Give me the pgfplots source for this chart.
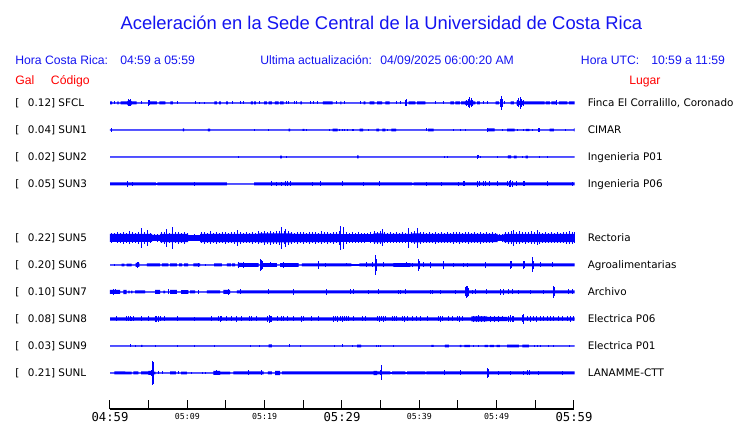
\documentclass[border=0pt]{standalone}
\usepackage{pgfplots}
\pgfplotsset{compat=1.18}
\usepackage{pgfplotstable}
\usepackage{fontspec}
\setmainfont{Liberation Sans}
\newfontfamily\dejavu{DejaVu Sans}
\newfontfamily\dejavumono{DejaVu Sans Mono}
\definecolor{tr}{RGB}{0,0,255}
\definecolor{hb}{RGB}{20,20,240}
\definecolor{rd}{RGB}{255,0,0}

% ---------- trace data: d = position along the hour record (0..464), a = half amplitude ----------
\pgfplotstableread[row sep=\\]{d a\\ 0 1.5\\ 2 0.6\\ 7.3 1.5\\ 8.7 0.6\\ 10.7 1.5\\ 17.3 2.2\\ 21.7 1.5\\ 26.7 0.6\\ 40 1.5\\ 46.7 0.6\\ 49.3 1.5\\ 55.3 0.6\\ 60.3 1.5\\ 62.7 0.6\\ 104.3 1.5\\ 106.7 0.6\\ 109 1.5\\ 110.7 0.6\\ 116 1.5\\ 117.7 0.6\\ 140.7 1.5\\ 142.7 0.6\\ 144 1.5\\ 145.7 0.6\\ 154 1.5\\ 156.7 0.6\\ 158.3 1.5\\ 161.7 0.6\\ 164.7 1.5\\ 168.3 0.6\\ 170 1.5\\ 173.3 0.6\\ 190 1.5\\ 191.7 0.6\\ 212.7 1.5\\ 222.3 0.6\\ 230 1.5\\ 231 0.6\\ 253.3 1.5\\ 255 0.6\\ 259.3 1.5\\ 264 0.6\\ 266.7 1.5\\ 271.7 0.6\\ 275 1.5\\ 279.3 0.6\\ 298.3 1.5\\ 305 0.6\\ 306.7 1.5\\ 315 0.6\\ 340 1.5\\ 343.3 0.6\\ 345 1.5\\ 349.3 0.6\\ 350.7 1.5\\ 355 2\\ 357.7 2.5\\ 362.7 1.5\\ 365 0.6\\ 366.7 1.5\\ 369.3 0.6\\ 385 1.5\\ 388.3 0.6\\ 400 1.5\\ 403.3 0.6\\ 406 2.2\\ 413.3 1.5\\ 434 0.6\\ 435 1.5\\ 439.3 0.6\\ 440.7 1.5\\ 446 0.6\\ 448.3 1.5\\ 456.7 0.6\\ 458.3 1.5\\ 464 1.5\\}\SFCLenv
\pgfplotstableread[row sep=\\]{d a\\ 4.7 1.5\\ 18 3.5\\ 19 3\\ 20 3.5\\ 31.3 1.5\\ 38 3\\ 39 2.5\\ 67.3 1.5\\ 85.3 1.5\\ 89.3 1.2\\ 94.3 1.2\\ 122.7 1.5\\ 130 1.5\\ 133.3 1.5\\ 149.3 1.5\\ 176 1.5\\ 178.3 1.5\\ 184.3 1.5\\ 186.7 1.5\\ 200 1.5\\ 203.3 1.5\\ 207.3 1.5\\ 226 1.5\\ 234 1.5\\ 250 1.5\\ 286 1.5\\ 290 1.5\\ 295.5 3\\ 296.5 3.5\\ 325 1.5\\ 333.3 1.5\\ 356.5 3\\ 358 4\\ 359.5 5.5\\ 361 4.5\\ 362.5 3\\ 373.3 1.5\\ 376.7 1.5\\ 389.5 4\\ 390.5 6.7\\ 391.5 4\\ 394.3 1.5\\ 406.5 3\\ 408 4.5\\ 409.5 6\\ 411 4\\ 412.5 3\\ 446 2.5\\}\SFCLspk

\pgfplotstableread[row sep=\\]{d a\\ 0 0.6\\ 72.7 1.5\\ 74 0.6\\ 97.7 1.3\\ 100 0.6\\ 178.3 1.3\\ 180 0.6\\ 192.3 1\\ 194 0.6\\ 222.3 1.3\\ 227.3 0.6\\ 249.3 1.3\\ 252.7 0.6\\ 266 1.3\\ 268.7 0.6\\ 272 1.3\\ 275 0.6\\ 281 1.3\\ 285.7 0.6\\ 317.7 1.3\\ 323.3 0.6\\ 377 1.5\\ 384 0.6\\ 396.7 1.4\\ 404 0.6\\ 415.3 1.2\\ 418.7 0.6\\ 439 1.3\\ 443.3 0.6\\ 463.3 1.5\\ 464 1.5\\}\SUNaenv
\pgfplotstableread[row sep=\\]{d a\\ 1 1.8\\ 144 1.2\\ 158.3 1.2\\ 196.7 1.2\\ 219.3 1.2\\ 229.3 1.2\\ 231.7 1.2\\ 234.3 1.2\\ 237 1.2\\ 241.7 1.2\\ 243.3 1.2\\ 258.3 1.2\\ 276.7 1.2\\ 316 1.5\\ 342.7 1\\ 350 1\\ 355 1\\ 377 2\\ 392.3 1.2\\ 407.3 1.2\\ 412.7 1.2\\ 422 1.2\\ 428 2\\ 429 2\\ 455 1.2\\}\SUNaspk

\pgfplotstableread[row sep=\\]{d a\\ 0 0.6\\ 170 1.3\\ 171.7 0.6\\ 246.7 1.5\\ 248.3 0.6\\ 397.3 1.5\\ 400.7 0.6\\ 403.3 1.3\\ 406 0.6\\ 415 1.3\\ 417.3 0.6\\ 464 0.6\\}\SUNbenv
\pgfplotstableread[row sep=\\]{d a\\ 128.3 1.2\\ 176.7 1.2\\ 334.3 1.2\\ 337.3 1.2\\ 367.5 1.8\\ 368.3 1.5\\ 370 1.2\\ 387.3 1.2\\ 412.3 1.2\\ 428.7 1.2\\ 437.3 1\\}\SUNbspk

\pgfplotstableread[row sep=\\]{d a\\ 0 1.5\\ 45.7 0.8\\ 47.3 1.5\\ 116.7 0.6\\ 144 1.5\\ 301.7 1\\ 303.3 1.5\\ 464 1.5\\}\SUNcenv
\pgfplotstableread[row sep=\\]{d a\\ 17.7 3\\ 22.7 2\\ 84.3 2\\ 161.7 2.5\\ 166.7 2\\ 171 2\\ 175 2.5\\ 177 2.5\\ 180 2.5\\ 202.3 2\\ 210 2.5\\ 231.7 2.5\\ 253.3 2\\ 269.3 2.5\\ 316 2\\ 330.7 2\\ 348.3 2\\ 352.7 2.5\\ 354 2.5\\ 367.3 3.3\\ 369.3 2.5\\ 373.3 2.5\\ 375 2.5\\ 379 2.5\\ 386.7 2.5\\ 397 2.5\\ 399 3\\ 400 3.5\\ 401.7 3\\ 406 2.5\\ 412.7 2.5\\ 414 2.5\\ 437.3 2.5\\ 462.3 2\\}\SUNcspk

\pgfplotstableread[row sep=\\]{d a\\ 0 4\\ 42 3\\ 50 4.2\\ 78 2.8\\ 90 4.2\\ 148 4.5\\ 182 4.2\\ 230 3.8\\ 263 4.5\\ 273 4\\ 302 4.5\\ 310 4.2\\ 387 3\\ 393 4.2\\ 464 4.2\\}\SUNeenv
\pgfplotstableread[row sep=\\]{d a\\ 1 5\\ 4 4.5\\ 7 5.5\\ 10 5\\ 13 6\\ 16 5\\ 19 6.5\\ 22 5.5\\ 25 5\\ 28 6\\ 31 10\\ 34 6\\ 37 8\\ 40 5\\ 44 3.5\\ 47 4\\ 51 5.5\\ 54 6\\ 56 9\\ 59 5\\ 62 11\\ 65 5.5\\ 68 6\\ 71 5\\ 74 6\\ 77 4.5\\ 80 3\\ 84 3.5\\ 88 3\\ 91 5.5\\ 94 6\\ 97 5\\ 100 6.5\\ 103 5\\ 106 6\\ 109 5\\ 112 5.5\\ 115 6\\ 118 5\\ 121 5.5\\ 124 6\\ 127 8\\ 130 6\\ 133 5\\ 136 5.5\\ 139 5\\ 142 6\\ 145 5\\ 148 6.5\\ 151 5.5\\ 154 7\\ 157 6\\ 160 7\\ 163 6\\ 166 6.5\\ 169 7\\ 171 11\\ 174 6.5\\ 175.5 9\\ 178 7\\ 181 6\\ 184 5\\ 187 6\\ 190 5.5\\ 193 6\\ 196 5\\ 199 6\\ 202 5.5\\ 205 6\\ 208 5\\ 211 6.5\\ 214 5.5\\ 217 6\\ 220 5\\ 223 6\\ 226 5.5\\ 229 7\\ 230.5 12\\ 233 11\\ 236 6\\ 239 5\\ 242 5.5\\ 245 5\\ 248 5.5\\ 251 5\\ 254 5\\ 257 4.5\\ 260 5.5\\ 264 6.5\\ 267 6\\ 270 6.5\\ 271.7 8.5\\ 274 5.5\\ 277 5\\ 280 5.5\\ 283 5\\ 286 5.5\\ 289 5\\ 292 5.5\\ 295 5\\ 298.3 10\\ 301 5.5\\ 304 6.5\\ 307.3 10\\ 310 6\\ 313 5.5\\ 316 5\\ 319 5.5\\ 322 5\\ 325 6\\ 328 5\\ 331 5.5\\ 334 5\\ 337 5.5\\ 340 5\\ 343 6\\ 346 5.5\\ 349 6\\ 352 5\\ 355 5.5\\ 358 6\\ 361 5\\ 364 5.5\\ 367 5\\ 370 6\\ 373 5\\ 376 5.5\\ 379 5\\ 382 5.5\\ 385 4.5\\ 389 3.5\\ 392 4\\ 395 5.5\\ 398 6\\ 401 6.5\\ 403.3 8\\ 406 6\\ 409 6.5\\ 412 5.5\\ 415 6\\ 418 5.5\\ 421 6.5\\ 424 6\\ 426.7 7.5\\ 429 6\\ 432 5\\ 435 5.5\\ 438 5\\ 441 5.5\\ 444 5\\ 447 5.5\\ 450 5\\ 453 5.5\\ 456 6\\ 459 6.5\\ 462 6\\ 463.5 5.5\\}\SUNespk

\pgfplotstableread[row sep=\\]{d a\\ 0 0.6\\ 11.7 1.3\\ 14.3 0.6\\ 16.7 1.3\\ 21.7 0.6\\ 25.7 2\\ 29.3 0.6\\ 36.7 1.5\\ 50 0.6\\ 51.7 1.5\\ 58.3 0.6\\ 60 1.5\\ 66.7 0.6\\ 69 1.5\\ 72 0.6\\ 74 1.5\\ 78 0.6\\ 83.3 1.5\\ 90 0.6\\ 104 1.5\\ 111.7 0.6\\ 116.7 1.5\\ 121 0.6\\ 122 1.5\\ 125 0.6\\ 127.7 2\\ 131.7 1.8\\ 148.3 0.6\\ 150 1.8\\ 166.7 0.6\\ 170 1.8\\ 188.3 0.6\\ 191.7 1.5\\ 241 0.8\\ 249 1.5\\ 283 1.8\\ 300 1.5\\ 464 1.5\\}\SUNfenv
\pgfplotstableread[row sep=\\]{d a\\ 4.3 1.2\\ 27 3\\ 28 2.5\\ 88.3 2\\ 95 1.2\\ 128.5 3\\ 133.7 3.3\\ 150.5 5.7\\ 151.5 5\\ 152.5 4\\ 160 2.5\\ 173.3 3\\ 208.3 4\\ 215 2\\ 236 1.5\\ 256 2.5\\ 261.7 2.5\\ 265 10\\ 266 6\\ 273 2.5\\ 290 2\\ 296 2.5\\ 302 2\\ 308.3 5.7\\ 309.3 4\\ 313 2.5\\ 320 3\\ 332.7 4\\ 343 2\\ 353.3 2\\ 356.7 2\\ 375 3\\ 400 4.3\\ 401 3.5\\ 412.7 4.3\\ 413.7 3.5\\ 421.7 7.5\\ 422.7 4\\ 430 2.5\\ 441.7 2.5\\}\SUNfspk

\pgfplotstableread[row sep=\\]{d a\\ 0 2\\ 10 0.6\\ 13.3 2.2\\ 16.7 0.6\\ 18.3 1.3\\ 19.5 0.6\\ 21 1.3\\ 22.3 0.6\\ 25 1.5\\ 35 0.6\\ 45 2\\ 50 0.6\\ 53.3 1.3\\ 55 0.6\\ 60 2\\ 66.7 0.6\\ 71 1.8\\ 78.3 0.6\\ 80 1.5\\ 85 0.6\\ 96.7 1.5\\ 110 0.6\\ 113.3 2\\ 120 0.6\\ 126.7 1.5\\ 464 1.5\\}\SUNgenv
\pgfplotstableread[row sep=\\]{d a\\ 3.3 3\\ 5 2.5\\ 58 2.5\\ 88.3 2\\ 118.7 3\\ 130 2.5\\ 158.3 2.5\\ 183.3 3.3\\ 216.7 3\\ 240 2.5\\ 242.7 2.5\\ 258.3 2\\ 268.3 2.5\\ 288.3 2\\ 290 2\\ 295 2.5\\ 320 2\\ 321.7 2\\ 330 2\\ 345 2\\ 355.5 4.5\\ 356.5 5.7\\ 357.5 5.5\\ 358.5 4\\ 361.7 2\\ 365 2.5\\ 375.7 2.5\\ 390 3\\ 393 3\\ 398.3 2.5\\ 401.7 2.5\\ 408.3 2\\ 420 2\\ 433.3 2\\ 443 5.7\\ 444 4.5\\ 458.3 2.5\\ 461.7 2.5\\}\SUNgspk

\pgfplotstableread[row sep=\\]{d a\\ 0 1.7\\ 361 2.5\\ 376.7 2.2\\ 396.7 1.7\\ 464 1.7\\}\SUNhenv
\pgfplotstableread[row sep=\\]{d a\\ 6.7 2.5\\ 16.7 2.5\\ 18.3 2.5\\ 20 2.5\\ 21 2.3\\ 23.3 2.5\\ 31.7 2.5\\ 38.3 2.5\\ 45 3\\ 46.5 3\\ 48.3 2.8\\ 50 2.5\\ 54.3 2.5\\ 67.7 2.5\\ 84.3 2.3\\ 101 2.5\\ 108.3 2.5\\ 110 2.8\\ 111.7 2.5\\ 116.7 2.5\\ 121.7 2.5\\ 126.7 3\\ 131.7 2.5\\ 139 2.5\\ 141.7 2.5\\ 146.7 2.5\\ 157.7 3\\ 159 3.7\\ 160.3 3.2\\ 161.7 2.8\\ 167.7 2.5\\ 171 2.5\\ 173.3 2.5\\ 177.7 2.5\\ 183.3 2.5\\ 191.7 2.8\\ 193.3 2.5\\ 201.7 2.5\\ 208.3 2.5\\ 223.3 2.8\\ 225 2.5\\ 226.7 2.8\\ 230 2.5\\ 232 2.8\\ 234 2.5\\ 236 2.5\\ 238.3 2.5\\ 243.3 2.5\\ 251.7 2.5\\ 255 2.5\\ 267 2.5\\ 269 2.8\\ 271 2.5\\ 273 2.8\\ 275 2.5\\ 281.7 2.5\\ 284 2.5\\ 286 2.5\\ 291.7 2.5\\ 294 2.8\\ 296.7 2.5\\ 301.7 2.5\\ 306 2.5\\ 310 2.5\\ 317.3 2.5\\ 328.3 2.5\\ 330 2.8\\ 331.7 2.5\\ 338.3 2.5\\ 341.7 2.5\\ 346.7 2.5\\ 349 2.8\\ 351.7 2.5\\ 363 2.8\\ 366 3\\ 368.3 3.5\\ 371 3\\ 374 2.8\\ 380 2.8\\ 384 2.8\\ 388 2.8\\ 392 2.5\\ 398.3 3\\ 400 3.5\\ 401.7 3.2\\ 403.3 3\\ 411.7 3.5\\ 412.5 5\\ 413.3 3.5\\ 416.7 2.5\\ 420 2.8\\ 423 2.5\\ 426 2.8\\ 430 2.5\\ 433.3 2.5\\ 437 2.5\\ 440 2.5\\ 443.3 2.5\\ 448.3 2.5\\ 451.7 2.5\\ 456.7 2.5\\ 460 2.8\\ 463.3 2.5\\}\SUNhspk

\pgfplotstableread[row sep=\\]{d a\\ 0 0.6\\ 31 1\\ 32.3 0.6\\ 158.3 1.5\\ 161.7 0.6\\ 246.7 1.3\\ 250.7 0.6\\ 321 1\\ 323.3 0.6\\ 334.3 1.3\\ 338.3 0.6\\ 349.3 1.2\\ 351 0.6\\ 354 1.2\\ 359.3 0.6\\ 374 1.2\\ 377.3 0.6\\ 379.3 1.2\\ 383.3 0.6\\ 386 1.2\\ 389.3 0.6\\ 396.7 1.3\\ 408.3 0.6\\ 411.7 1.3\\ 418.3 0.6\\ 464 0.6\\}\SUNienv
\pgfplotstableread[row sep=\\]{d a\\ 20.3 1.5\\ 25 1.2\\ 45 1\\ 67.7 1.2\\ 84.3 1.2\\ 104.3 1.2\\ 140 1.2\\ 149 1.2\\ 179 1.5\\ 190 1.2\\ 224.3 1.2\\ 232.3 1.5\\ 241.7 1.2\\ 266 1.2\\ 268 1.2\\ 270 1.2\\ 282.7 1.2\\ 363.3 1.2\\ 367.7 1.2\\ 424.3 1.2\\ 427 1.2\\ 430 1.2\\ 438.3 1.2\\ 443.3 1.2\\ 459.3 1.2\\}\SUNispk

\pgfplotstableread[row sep=\\]{d a\\ 0 0.6\\ 4.3 1.5\\ 15 1.3\\ 21.7 0.6\\ 23.3 1.5\\ 28.3 0.6\\ 31 1.5\\ 38.3 2\\ 43.3 1.3\\ 45.3 0.6\\ 60 1.5\\ 65.7 0.6\\ 71 1.3\\ 76.7 0.6\\ 103.3 2\\ 110 1.3\\ 120 0.6\\ 123.3 1.5\\ 153.3 0.6\\ 157.7 1.5\\ 161.7 0.6\\ 165 2.2\\ 170 0.6\\ 171.7 1.5\\ 263.3 2.2\\ 266.7 1.5\\ 280 0.8\\ 281.7 1.5\\ 295 0.8\\ 296.7 1.5\\ 315 0.8\\ 316 1.5\\ 464 1.5\\}\SUNLenv
\pgfplotstableread[row sep=\\]{d a\\ 41 3\\ 42 12.3\\ 43 11\\ 48 1.5\\ 52 1.5\\ 68.3 1.5\\ 81.7 1.2\\ 92.3 1.2\\ 95 1.2\\ 106.7 2.5\\ 138.3 2.5\\ 151.7 2.5\\ 270 2.5\\ 271 7.5\\ 334.3 2.5\\ 350 2.5\\ 377 5\\ 378 4\\ 388.3 2\\ 400 2\\ 412.7 2\\ 417.3 2.5\\ 419.3 2.5\\ 428.3 2\\ 451.7 2\\}\SUNLspk

\pgfplotsset{trc/.style={scale only axis, width=348pt, height=20.25pt,
  xmin=0, xmax=464, ymin=-13.5, ymax=13.5, hide axis, clip=false, anchor=west}}

% #1 = vertical centre of the trace, in pixels from the top of the picture
\newcommand{\trace}[3]{%
\begin{axis}[trc, at={({82.5pt},{-#1*0.75pt})}]
\addplot[fill=tr, draw=none, const plot] table[x=d, y=a] {#2} \closedcycle;
\addplot[fill=tr, draw=none, const plot] table[x=d, y expr=-\thisrow{a}] {#2} \closedcycle;
\addplot[draw=none, mark=none, error bars/.cd, y dir=both, y explicit, error mark=none,
  error bar style={draw=tr, line width=0.75pt}] table[x=d, y expr=0, y error=a] {#3};
\end{axis}}

\begin{document}
\begin{tikzpicture}[x=0.75pt, y=-0.75pt,
  lab/.style={anchor=base west, inner sep=0pt, font=\dejavu\fontsize{7.8}{9}\selectfont},
  hdr/.style={anchor=base west, inner sep=0pt, text=hb, font=\fontsize{9.15}{11}\selectfont},
  red/.style={anchor=base west, inner sep=0pt, text=rd, font=\fontsize{9.15}{11}\selectfont}]
\useasboundingbox (0,0) rectangle (740,423);

\node[anchor=base, inner sep=0pt, text=hb, font=\fontsize{13.8}{16}\selectfont] at (381.5,29.3)
  {Aceleración en la Sede Central de la Universidad de Costa Rica};

\node[hdr] at (15,64.7) {Hora Costa Rica:};
\node[hdr] at (120,64.7) {04:59 a 05:59};
\node[hdr] at (260,64.7) {Ultima actualización:};
\node[hdr] at (380,64.7) {04/09/2025 06:00:20 AM};
\node[hdr] at (580.7,64.7) {Hora UTC:};
\node[hdr] at (651,64.7) {10:59 a 11:59};
\node[red] at (15,84.7) {Gal};
\node[red] at (50.7,84.7) {Código};
\node[red] at (629,84.7) {Lugar};

\foreach \yy/\vv/\cc/\pp in {103/0.12/SFCL/{Finca El Corralillo, Coronado}, 130/0.04/SUN1/CIMAR,
  157/0.02/SUN2/Ingenieria P01, 184/0.05/SUN3/Ingenieria P06, 238/0.22/SUN5/Rectoria,
  265/0.20/SUN6/Agroalimentarias, 292/0.10/SUN7/Archivo, 319/0.08/SUN8/Electrica P06,
  346/0.03/SUN9/Electrica P01, 373/0.21/SUNL/LANAMME-CTT}{
  \node[lab] at (15,\yy+3.7) {[};
  \node[lab] at (27.7,\yy+3.7) {\vv] \cc};
  \node[lab] at (587.5,\yy+3.7) {\pp};
}

\trace{103}{\SFCLenv}{\SFCLspk}
\trace{130}{\SUNaenv}{\SUNaspk}
\trace{157}{\SUNbenv}{\SUNbspk}
\trace{184}{\SUNcenv}{\SUNcspk}
\trace{238}{\SUNeenv}{\SUNespk}
\trace{265}{\SUNfenv}{\SUNfspk}
\trace{292}{\SUNgenv}{\SUNgspk}
\trace{319}{\SUNhenv}{\SUNhspk}
\trace{346}{\SUNienv}{\SUNispk}
\trace{373}{\SUNLenv}{\SUNLspk}

\begin{axis}[at={({82.5pt},{-306.75pt})}, anchor=south west, scale only axis, width=348pt, height=10pt,
  xmin=0, xmax=60, ymin=0, ymax=1, axis x line=bottom, axis y line=none,
  axis line style={-, black, line width=1pt}, tick align=inside,
  major tick length=6.5pt, minor tick length=6.5pt, tick style={black, line width=0.75pt},
  xtick={0,30,60}, xticklabels={04:59,05:29,05:59}, minor xtick={5,15,25,35,45,55},
  xticklabel style={font=\dejavumono\fontsize{9.2}{10}\selectfont, inner sep=0pt, anchor=north, yshift=-2.2pt},
  extra x ticks={10,20,40,50}, extra x tick labels={05:09,05:19,05:39,05:49},
  extra x tick style={xticklabel style={font=\dejavumono\fontsize{6.2}{7}\selectfont, yshift=-0.6pt}}]
\addplot[draw=none] coordinates {(0,0.5)(60,0.5)};
\end{axis}
\end{tikzpicture}
\end{document}
